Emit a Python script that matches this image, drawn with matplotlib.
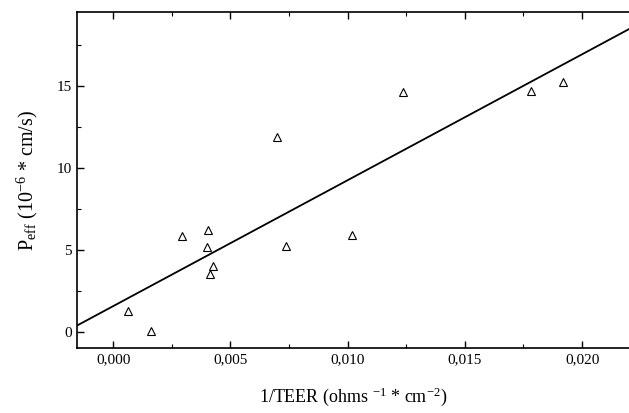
import matplotlib
matplotlib.use("Agg")
import matplotlib.pyplot as plt
import numpy as np
from matplotlib.ticker import MultipleLocator, FuncFormatter

inv_teer = [0.00063, 0.00162, 0.00294, 0.00405, 0.0040, 0.00424, 0.00415,
            0.00698, 0.00736, 0.01018, 0.01238, 0.0178, 0.0192]
p_eff = [1.24, 0.06, 5.85, 6.18, 5.16, 4.02, 3.5,
         11.9, 5.26, 5.9, 14.6, 14.7, 15.2]

fit_slope = 768.0
fit_intercept = 1.56

plt.rcParams["font.family"] = ["Liberation Serif", "DejaVu Serif"]
plt.rcParams["mathtext.default"] = "regular"

fig = plt.figure(figsize=(6.29, 4.13), dpi=100)
ax = fig.add_axes([0.1224, 0.157, 0.8776, 0.814])

xlim = (-0.00154, 0.0220)
xs = np.array(xlim)
ax.plot(xs, fit_intercept + fit_slope * xs, color="black", lw=1.3)
ax.plot(inv_teer, p_eff, linestyle="none", marker="^", markersize=6,
        markerfacecolor="white", markeredgecolor="black", markeredgewidth=0.8)

ax.set_xlim(*xlim)
ax.set_ylim(-1.0, 19.5)
ax.xaxis.set_major_locator(MultipleLocator(0.005))
ax.xaxis.set_minor_locator(MultipleLocator(0.0025))
ax.yaxis.set_major_locator(MultipleLocator(5))
ax.yaxis.set_minor_locator(MultipleLocator(2.5))
ax.xaxis.set_major_formatter(FuncFormatter(lambda v, p: f"{v:.3f}".replace(".", ",").replace("-0,000", "0,000")))
ax.tick_params(which="both", direction="in", top=True, right=False, labelsize=11)
ax.tick_params(which="major", length=5, width=1)
ax.tick_params(which="minor", length=3, width=0.8)
for s in ax.spines.values():
    s.set_linewidth(1.2)
ax.spines["right"].set_visible(False)

ax.set_xlabel(r"1/TEER (ohms $^{-1}$ * cm$^{-2}$)", fontsize=13, labelpad=14)
ax.set_ylabel(r"P$_{eff}$ (10$^{-6}$ * cm/s)", fontsize=14.5, labelpad=12)

fig.savefig("out.png", dpi=100)
